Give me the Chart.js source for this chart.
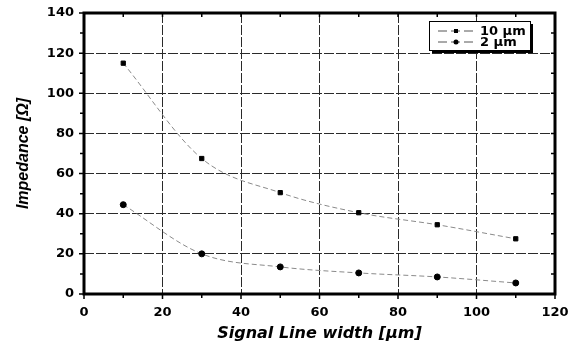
<!DOCTYPE html>
<html>
<head>
<meta charset="utf-8">
<script src="https://cdn.jsdelivr.net/npm/chart.js@4/dist/chart.umd.min.js"></script>
<style>
  html, body { margin: 0; padding: 0; background: #fff; }
  #wrap { width: 575px; height: 347px; }
</style>
</head>
<body>
<div id="wrap"><canvas id="myChart" width="575" height="347"></canvas></div>
<script>
// signal line width vs impedance, two thicknesses
const lineWidths = [10, 30, 50, 70, 90, 110]
const impedance10um = [115, 67.5, 50.5, 40.5, 34.5, 27.5]
const impedance2um = [44.5, 20, 13.5, 10.5, 8.5, 5.5]
const seriesLabels = ['10 \u00b5m', '2 \u00b5m']
const xTicks = [0, 20, 40, 60, 80, 100, 120]
const yTicks = [0, 20, 40, 60, 80, 100, 120, 140]

const toPoints = (ys) => lineWidths.map((x, i) => ({ x: x, y: ys[i] }))

const tickFont = { family: 'DejaVu Sans', size: 13, weight: 'bold' }

// frame, minor ticks, mirrored ticks on top/right, and the boxed legend
const framePlugin = {
    id: 'frame',
    afterDraw(chart) {
        const ctx = chart.ctx
        const a = chart.chartArea
        const xs = chart.scales.x
        const ys = chart.scales.y
        ctx.save()
        ctx.strokeStyle = '#000'
        ctx.lineWidth = 1.5
        for (let v = 0; v <= 120; v += 10) {
            const px = xs.getPixelForValue(v)
            const len = v % 20 === 0 ? 5 : 4
            ctx.beginPath()
            ctx.moveTo(px, a.bottom); ctx.lineTo(px, a.bottom + len)
            ctx.moveTo(px, a.top); ctx.lineTo(px, a.top + 4)
            ctx.stroke()
        }
        for (let v = 0; v <= 140; v += 10) {
            const py = ys.getPixelForValue(v)
            const len = v % 20 === 0 ? 5 : 4
            ctx.beginPath()
            ctx.moveTo(a.left, py); ctx.lineTo(a.left - len, py)
            ctx.moveTo(a.right, py); ctx.lineTo(a.right - 4, py)
            ctx.stroke()
        }
        ctx.lineWidth = 3
        ctx.strokeRect(a.left, a.top, a.right - a.left, a.bottom - a.top)

        // legend box with shadow
        const bx = 429, by = 21, bw = 101, bh = 29
        ctx.fillStyle = '#000'
        ctx.fillRect(bx + 3, by + 3, bw, bh)
        ctx.fillStyle = '#fff'
        ctx.fillRect(bx, by, bw, bh)
        ctx.lineWidth = 1
        ctx.strokeRect(bx + 0.5, by + 0.5, bw, bh)
        chart.data.datasets.forEach((ds, i) => {
            const ly = by + 10 + i * 11
            ctx.strokeStyle = '#555'
            ctx.lineWidth = 1
            ctx.setLineDash([9, 4])
            ctx.beginPath()
            ctx.moveTo(bx + 9, ly); ctx.lineTo(bx + 46, ly)
            ctx.stroke()
            ctx.setLineDash([])
            ctx.fillStyle = '#000'
            if (ds.pointStyle === 'rect') {
                ctx.fillRect(bx + 25, ly - 2, 4, 4)
            } else {
                ctx.beginPath()
                ctx.arc(bx + 27, ly, 2.5, 0, Math.PI * 2)
                ctx.fill()
            }
            ctx.font = 'bold 13px "DejaVu Sans"'
            ctx.textBaseline = 'middle'
            ctx.fillText(ds.label, bx + 51, ly + 1)
        })
        ctx.restore()
    }
}

const data = {
    datasets: [
        {
            label: seriesLabels[0],
            data: toPoints(impedance10um),
            borderColor: '#8a8a8a',
            borderWidth: 1,
            borderDash: [5, 3],
            cubicInterpolationMode: 'monotone',
            pointStyle: 'rect',
            pointRadius: 3,
            pointBackgroundColor: '#000',
            pointBorderColor: '#000'
        },
        {
            label: seriesLabels[1],
            data: toPoints(impedance2um),
            borderColor: '#8a8a8a',
            borderWidth: 1,
            borderDash: [5, 3],
            cubicInterpolationMode: 'monotone',
            pointStyle: 'circle',
            pointRadius: 3,
            pointBackgroundColor: '#000',
            pointBorderColor: '#000'
        }
    ]
}

const config = {
    type: 'line',
    data: data,
    options: {
        responsive: false,
        animation: false,
        layout: { padding: { left: 14, right: 20, top: 13, bottom: 0 } },
        plugins: {
            legend: { display: false },
            tooltip: { enabled: false }
        },
        scales: {
            x: {
                type: 'linear',
                min: 0,
                max: 120,
                afterBuildTicks: (s) => { s.ticks = xTicks.map(v => ({ value: v })) },
                afterFit: (s) => { s.height = 53; s.paddingLeft = 0; s.paddingRight = 0 },
                ticks: { color: '#000', font: tickFont, padding: 11, maxRotation: 0 },
                grid: { color: '#2a2a2a', lineWidth: 1, drawTicks: false },
                border: { display: false, dash: [10, 2] },
                title: {
                    display: true, text: 'Signal Line width [\u00b5m]', color: '#000',
                    font: { family: 'DejaVu Sans', size: 16, weight: 'bold', style: 'italic' },
                    padding: { top: 3 }
                }
            },
            y: {
                min: 0,
                max: 140,
                afterBuildTicks: (s) => { s.ticks = yTicks.map(v => ({ value: v })) },
                afterFit: (s) => { s.width = 70; s.paddingTop = 0; s.paddingBottom = 0 },
                ticks: { color: '#000', font: tickFont, padding: 10 },
                grid: { color: '#2a2a2a', lineWidth: 1, drawTicks: false },
                border: { display: false, dash: [10, 2] },
                title: {
                    display: true, text: 'Impedance [\u03a9]', color: '#000',
                    font: { family: 'Liberation Sans', size: 16, weight: 'bold', style: 'italic' },
                    padding: 0
                }
            }
        }
    },
    plugins: [framePlugin]
}

const resultChart = new Chart(document.getElementById('myChart'), config)
</script>
</body>
</html>
